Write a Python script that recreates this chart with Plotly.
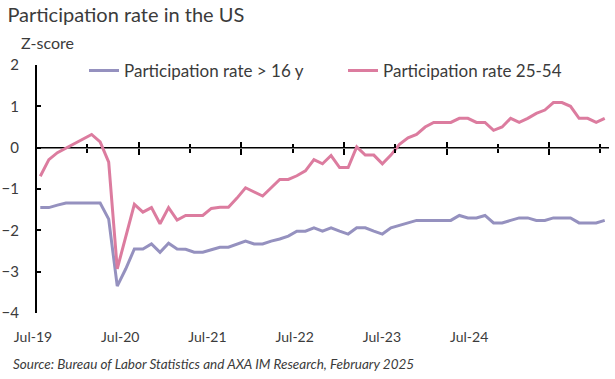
import plotly.graph_objects as go

# ---- data (monthly, Jul-2019 .. Jan-2025), z-scores ----
period_index = list(range(67))

rate_16plus = [
    -1.45, -1.45, -1.39, -1.34, -1.34, -1.34, -1.34, -1.34, -1.73, -3.35,
    -2.93, -2.45, -2.45, -2.33, -2.53, -2.31, -2.45, -2.46, -2.53, -2.53,
    -2.47, -2.41, -2.41, -2.33, -2.26, -2.33, -2.33, -2.26, -2.21, -2.14,
    -2.02, -2.02, -1.94, -2.02, -1.94, -2.02, -2.09, -1.94, -1.94, -2.02,
    -2.09, -1.94, -1.88, -1.82, -1.76, -1.76, -1.76, -1.76, -1.76, -1.64,
    -1.70, -1.70, -1.64, -1.82, -1.82, -1.76, -1.70, -1.70, -1.76, -1.76,
    -1.70, -1.70, -1.70, -1.82, -1.82, -1.82, -1.76,
]

rate_25_54 = [
    -0.69, -0.29, -0.12, -0.01, 0.10, 0.21, 0.32, 0.14, -0.35, -2.93,
    -2.17, -1.37, -1.56, -1.45, -1.84, -1.45, -1.75, -1.64, -1.64, -1.64,
    -1.47, -1.44, -1.44, -1.22, -0.97, -1.07, -1.17, -0.97, -0.77, -0.77,
    -0.68, -0.56, -0.29, -0.39, -0.19, -0.48, -0.48, 0.02, -0.18, -0.18,
    -0.39, -0.18, 0.08, 0.24, 0.32, 0.50, 0.61, 0.61, 0.61, 0.71,
    0.71, 0.61, 0.61, 0.42, 0.50, 0.71, 0.61, 0.71, 0.83, 0.91,
    1.09, 1.09, 1.00, 0.71, 0.71, 0.61, 0.71,
]

tick_labels = ["Jul-19", "Jul-20", "Jul-21", "Jul-22", "Jul-23", "Jul-24"]
tick_positions = [-0.85, 9.35, 19.55, 29.75, 39.95, 50.15]

series_names = ["Participation rate > 16 y", "Participation rate 25-54"]
series_colors = ["#9591bf", "#dc7c9f"]

FONT = "Lato"
TXT = "#3b3b3b"

# plot area spans 8..609 px; the y axis sits at 36 px (category -0.5)
ML, MR = 8, 6
PLOT_W = 615 - ML - MR
CAT_W = 8.55
axis_start = -0.5
x_end = 66.5
x_lo = axis_start - (36 - ML) / CAT_W
x_range = [x_lo, x_end]
yaxis_pos = (36 - ML) / PLOT_W

fig = go.Figure()
for name, vals, col in zip(series_names, [rate_16plus, rate_25_54], series_colors):
    fig.add_trace(go.Scatter(
        x=period_index, y=vals, mode="lines", name=name,
        line=dict(color=col, width=3),
    ))
# helper (empty) traces so the overlay axes carrying the zero-line ticks get drawn
for ax in ["x2", "x3"]:
    fig.add_trace(go.Scatter(x=[None], y=[None], xaxis=ax, showlegend=False,
                             hoverinfo="skip", mode="lines"))

tick_common = dict(
    overlaying="x", anchor="free", position=4 / 6, range=x_range,
    showline=False, showticklabels=False, showgrid=False, zeroline=False,
    tickmode="linear", tick0=11.5, dtick=12, ticklen=6,
    tickcolor="black", tickwidth=1.5, automargin=False,
)

fig.update_layout(
    width=615, height=379,
    margin=dict(l=ML, r=MR, t=65, b=66, autoexpand=False),
    paper_bgcolor="white", plot_bgcolor="white",
    font=dict(family=FONT, color=TXT, size=14),
    showlegend=True,
    legend=dict(
        orientation="h", x=(84 - ML) / PLOT_W, xanchor="left",
        y=0.976, yanchor="middle",
        font=dict(family=FONT, size=17, color=TXT),
        bgcolor="rgba(0,0,0,0)", entrywidth=214, itemwidth=30,
        tracegroupgap=0,
    ),
    xaxis=dict(
        range=x_range, tickmode="array", tickvals=tick_positions, ticktext=tick_labels,
        showline=False, zeroline=False, showgrid=False, automargin=False,
        ticks="outside", ticklen=11, tickcolor="rgba(0,0,0,0)",
        tickfont=dict(family=FONT, size=14, color=TXT),
    ),
    xaxis2=dict(ticks="outside",
                minor=dict(tick0=-0.5, dtick=6, ticks="outside", ticklen=4,
                           tickcolor="black", tickwidth=1.5),
                **tick_common),
    xaxis3=dict(ticks="inside",
                minor=dict(tick0=-0.5, dtick=6, ticks="inside", ticklen=4,
                           tickcolor="black", tickwidth=1.5),
                **tick_common),
    yaxis=dict(
        range=[-4, 2], dtick=1, tick0=0, showgrid=False, zeroline=False,
        anchor="free", position=yaxis_pos, automargin=False,
        showline=True, linecolor="black", linewidth=2,
        ticks="inside", ticklen=4, tickcolor="black", tickwidth=1.5,
        ticklabelstandoff=13,
        tickfont=dict(family=FONT, size=15, color=TXT),
    ),
    title=dict(
        text="Participation rate in the US", x=0.012, xanchor="left",
        y=0.96, yanchor="middle",
        font=dict(family=FONT, size=20, color=TXT),
    ),
    shapes=[
        dict(type="line", xref="x", yref="y", x0=axis_start, x1=x_end, y0=0, y1=0,
             line=dict(color="black", width=1.5), layer="below"),
    ],
    annotations=[
        dict(text="Z-score", xref="paper", yref="paper", x=(19 - ML) / PLOT_W, y=1.089,
             xanchor="left", yanchor="middle", showarrow=False,
             font=dict(family=FONT, size=16, color=TXT)),
        dict(text="<i>Source: Bureau of Labor Statistics and AXA IM Research, February 2025</i>",
             xref="paper", yref="paper", x=(11 - ML) / PLOT_W, y=-0.2056,
             xanchor="left", yanchor="middle", showarrow=False,
             font=dict(family=FONT, size=13.5, color=TXT)),
    ],
)

fig.write_html("out.html", config={"displayModeBar": False},
               post_script="document.body.style.margin='0';")
